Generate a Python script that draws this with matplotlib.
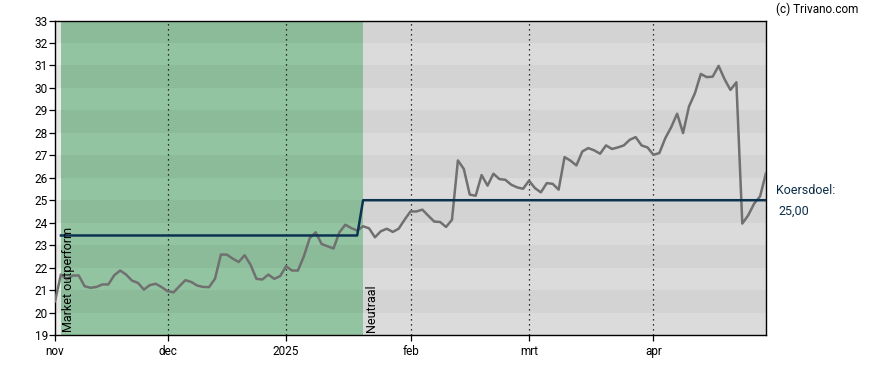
import matplotlib
matplotlib.use("Agg")
import matplotlib.pyplot as plt
from matplotlib.transforms import blended_transform_factory

plt.rcParams['font.family'] = ['Roboto', 'DejaVu Sans']

# slotkoersen per handelsdag (index 0 = begin nov)
price = [20.50, 21.69, 21.47, 21.65, 21.65, 21.17, 21.10, 21.14, 21.25, 21.25,
         21.66, 21.87, 21.69, 21.42, 21.32, 21.02, 21.22, 21.28, 21.13, 20.95,
         20.90, 21.17, 21.44, 21.36, 21.20, 21.14, 21.13, 21.50, 22.58, 22.58,
         22.40, 22.25, 22.55, 22.13, 21.50, 21.47, 21.69, 21.50, 21.62, 22.06,
         21.87, 21.87, 22.50, 23.32, 23.57, 23.05, 22.95, 22.85, 23.57, 23.91,
         23.76, 23.65, 23.84, 23.75, 23.35, 23.62, 23.73, 23.59, 23.73, 24.13,
         24.50, 24.50, 24.58, 24.31, 24.05, 24.03, 23.81, 24.13, 26.77, 26.39,
         25.25, 25.20, 26.12, 25.65, 26.18, 25.94, 25.91, 25.69, 25.57, 25.51,
         25.87, 25.54, 25.35, 25.76, 25.73, 25.47, 26.92, 26.76, 26.55, 27.17,
         27.32, 27.22, 27.07, 27.44, 27.28, 27.35, 27.44, 27.69, 27.81, 27.44,
         27.35, 27.02, 27.10, 27.76, 28.25, 28.85, 27.99, 29.17, 29.76, 30.62,
         30.48, 30.50, 30.98, 30.39, 29.91, 30.25, 23.96, 24.33, 24.85, 25.17,
         26.21]

# koersdoel (stappen)
target_x = [1, 51, 52, 120]
target_y = [23.43, 23.43, 25.00, 25.00]
target_txt = "25,00"

# adviesperiodes: start, eind, label
rating_start = [1, 52]
rating_end = [52, 120]
rating_label = ["Market outperform", "Neutraal"]
rating_dark = ["#8bbb99", "#d3d3d3"]
rating_light = ["#93c4a2", "#dbdbdb"]

month_pos = [0, 19, 39, 60, 80, 101]
month_lbl = ["nov", "dec", "2025", "feb", "mrt", "apr"]

y_min, y_max = 19, 33

fig = plt.figure(figsize=(8.88, 3.70), dpi=100)
ax = fig.add_axes([55 / 888, 1 - 335 / 370, (766 - 55) / 888, (335 - 20.5) / 370])

# achtergrondbanden
for k in range(y_min, y_max):
    even = (k % 2 == 0)
    ax.fill_between([0, rating_start[0]], k, k + 1,
                    color="#e4e4e4" if even else "#eeeeee", lw=0, zorder=0)
    for s, e, cd, cl in zip(rating_start, rating_end, rating_dark, rating_light):
        ax.fill_between([s, e], k, k + 1, color=cd if even else cl, lw=0, zorder=0)

for p in month_pos[1:]:
    ax.axvline(p, color="black", lw=0.9, ls=(0, (1, 3)), zorder=1)

ax.plot(range(len(price)), price, color="#707070", lw=1.8, zorder=3)
ax.plot(target_x, target_y, color="#0b3350", lw=1.8, zorder=4)

for s, lbl in zip(rating_start, rating_label):
    ax.text(s + 0.25, y_min + 0.15, lbl, rotation=90, ha="left", va="bottom",
            fontsize=9, color="black", zorder=5)

ax.set_xlim(0, len(price) - 1)
ax.set_ylim(y_min, y_max)
ax.set_yticks(range(y_min, y_max + 1))
ax.set_xticks(month_pos)
ax.set_xticklabels(month_lbl)
ax.tick_params(axis="both", direction="out", length=4, width=0.9, labelsize=8.5,
               colors="black")
ax.tick_params(axis="y", pad=1)
ax.tick_params(axis="x", pad=3)
for sp in ax.spines.values():
    sp.set_color("black")
    sp.set_linewidth(1.0)

tr = blended_transform_factory(ax.transAxes, ax.transData)
ax.annotate("Koersdoel:", xy=(1.0, target_y[-1]), xycoords=tr, xytext=(7, 2),
            textcoords="offset points", ha="left", va="bottom",
            fontsize=9, color="#0c2d48", annotation_clip=False)
ax.annotate(target_txt, xy=(1.0, target_y[-1]), xycoords=tr, xytext=(9, -3),
            textcoords="offset points", ha="left", va="top",
            fontsize=9, color="#0c2d48", annotation_clip=False)

fig.text(858 / 888, 1 - 9 / 370, "(c) Trivano.com", ha="right", va="center",
         fontsize=8.5, color="black")

fig.savefig("out.png", dpi=100)
